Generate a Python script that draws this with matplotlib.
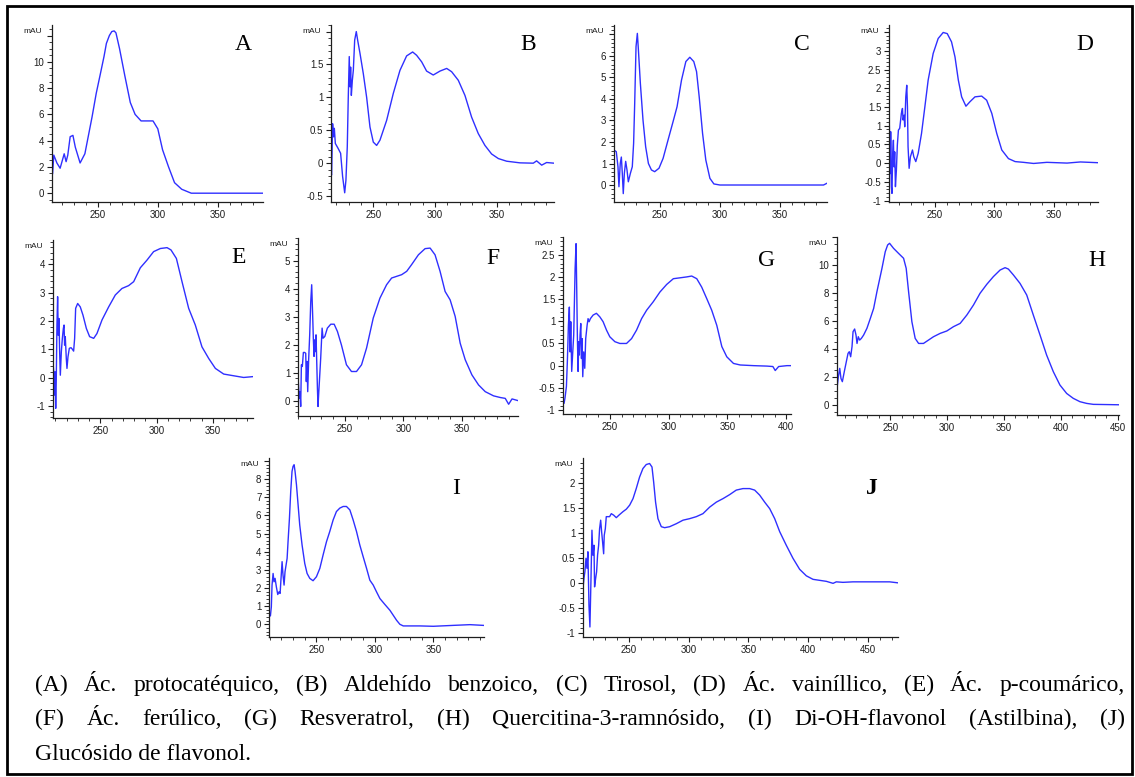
import matplotlib
matplotlib.use('Agg')
import matplotlib.pyplot as plt
from matplotlib.ticker import MultipleLocator, FuncFormatter
from matplotlib.patches import Rectangle

W, H = 1135, 777

# UV spectra: wavelength (nm) and absorbance (mAU)
a_nm = [212, 213, 215.6, 218.3, 221.7, 223.3, 224.7, 226.7, 229, 231, 235, 239, 245, 248.5, 252, 255,
        257, 259.5, 261.5, 263.5, 265, 268, 272.5, 277, 281, 286, 296, 300, 304, 309, 314, 320, 328, 388]
a_mau = [1.5, 2.9, 2.3, 1.9, 3.0, 2.4, 2.9, 4.3, 4.4, 3.5, 2.3, 3.0, 5.8, 7.6, 9.1, 10.4,
         11.4, 12.0, 12.3, 12.35, 12.2, 11.0, 8.9, 6.9, 6.0, 5.5, 5.5, 4.9, 3.3, 2.0, 0.8, 0.3, 0.0, 0.0]

b_nm = [215.7, 216.2, 217.0, 217.8, 218.4, 219.2, 221.6, 223.5, 225.1, 226.8, 227.8, 228.9, 229.7, 230.5,
        231.1, 231.6, 232.2, 233.0, 233.8, 234.9, 236.2, 237.3, 239.2, 241.9, 244.6, 247.3, 250, 252.7,
        255.4, 260.8, 266.2, 271.6, 277.0, 281.9, 285.1, 289.2, 293.2, 298.6, 304.1, 309.5, 313.5, 318.9,
        324.3, 329.7, 335.1, 340.5, 345.9, 351.4, 358.1, 368.9, 379.7, 382.4, 386.5, 390.5, 396.5]
b_mau = [-0.16, -0.18, 0.6, 0.4, 0.53, 0.3, 0.22, 0.15, -0.2, -0.45, -0.26, 0.25, 1.0, 1.62,
         1.16, 1.46, 1.03, 1.26, 1.41, 1.87, 2.0, 1.87, 1.67, 1.36, 1.0, 0.55, 0.32, 0.27,
         0.35, 0.65, 1.06, 1.41, 1.63, 1.69, 1.64, 1.54, 1.4, 1.34, 1.4, 1.44, 1.39, 1.26,
         1.03, 0.7, 0.45, 0.27, 0.14, 0.07, 0.03, 0.005, 0.0, 0.035, -0.03, 0.01, 0.0]

c_nm = [211.9, 213.9, 215.3, 216.1, 217.2, 218.1, 218.9, 219.7, 220.6, 221.7, 222.8, 223.9, 225.6, 227.2,
        228.3, 229.2, 230.3, 231.4, 232.2, 233.9, 236.1, 238.3, 240.6, 243.1, 245.8, 249.4, 252.8, 256.9,
        261.1, 264.4, 268.1, 271.7, 275.0, 278.3, 280.6, 282.8, 285.6, 288.3, 291.7, 295.0, 300, 386.1, 388.9]
c_mau = [1.63, 1.55, 0.85, -0.08, 1.0, 1.3, 0.54, -0.4, 0.54, 1.1, 0.7, 0.15, 0.54, 0.85,
         1.94, 3.8, 6.43, 7.05, 6.36, 4.73, 3.02, 1.78, 1.0, 0.7, 0.62, 0.78, 1.24, 2.09,
         2.95, 3.64, 4.88, 5.74, 5.94, 5.74, 5.27, 4.1, 2.4, 1.16, 0.31, 0.05, 0.0, 0.0, 0.08]

d_nm = [211.5, 212.1, 212.6, 212.9, 213.5, 214.0, 214.6, 215.2, 215.7, 216.3, 216.9, 217.7, 218.5, 219.4,
        220.5, 221.9, 222.8, 223.3, 224.2, 224.7, 225.6, 226.4, 227.0, 227.5, 228.4, 229.5, 231.2, 232.3,
        234.0, 236.0, 238.8, 241.6, 244.4, 248.6, 252.8, 257.0, 260.4, 264.0, 266.9, 269.7, 272.5, 276.1,
        279.5, 283.7, 289.3, 293.5, 297.8, 302.0, 306.2, 311.8, 317.4, 324.4, 332.9, 344.1, 361.0, 372.2, 387.1]
d_mau = [1.42, 0.53, -0.28, 0.84, -0.63, -0.81, 0.26, 0.61, -0.1, 0.3, -0.63, -0.19, 0.48, 0.88,
         0.93, 1.33, 1.46, 1.15, 1.28, 0.97, 1.77, 2.08, 1.5, 0.44, -0.14, 0.17, 0.35, 0.17,
         0.04, 0.26, 0.79, 1.5, 2.22, 2.93, 3.33, 3.49, 3.46, 3.24, 2.84, 2.22, 1.77, 1.52,
         1.64, 1.77, 1.79, 1.68, 1.33, 0.79, 0.35, 0.12, 0.04, 0.02, -0.01, 0.02, 0.0, 0.03, 0.01]

e_nm = [208.0, 208.6, 209.2, 209.8, 210.4, 210.9, 211.5, 212.1, 212.7, 213.3, 213.9, 214.5, 215.4, 216.3,
        217.2, 217.8, 218.3, 218.9, 219.8, 220.4, 221.3, 222.5, 224.0, 225.1, 226.3, 227.2, 228.1, 229.9,
        232.2, 234.6, 237.6, 240.5, 244.1, 247.0, 251.5, 257.4, 263.3, 269.2, 275.1, 279.6, 285.5, 291.4,
        297.3, 303.3, 309.2, 312.7, 317.5, 322.5, 328.4, 334.3, 340.2, 346.2, 352.1, 359.5, 368.3, 377.2, 385.5]
e_mau = [0.56, 0.21, -0.61, 0.21, -1.08, -0.08, 1.86, 2.86, 1.5, 2.09, 0.92, 0.09, 0.92, 1.39,
         1.74, 1.86, 1.15, 1.45, 0.68, 0.33, 0.74, 1.04, 1.06, 1.01, 0.94, 1.39, 2.45, 2.62,
         2.5, 2.21, 1.74, 1.45, 1.39, 1.56, 2.04, 2.5, 2.92, 3.15, 3.25, 3.39, 3.88, 4.15,
         4.45, 4.56, 4.59, 4.51, 4.21, 3.39, 2.45, 1.86, 1.09, 0.68, 0.33, 0.13, 0.07, 0.01, 0.04]

f_nm = [210, 210.6, 211.1, 211.7, 212.3, 212.9, 213.7, 214.6, 215.7, 216.6, 217.1, 217.7, 218.3, 219.1,
        220, 220.9, 221.7, 222.6, 223.1, 223.7, 224.3, 224.9, 225.4, 226, 226.6, 227.1, 227.7, 228.6,
        229.4, 230.6, 231.4, 232.9, 235.1, 238, 240.9, 243.7, 247.1, 251.4, 255.7, 260, 264.3, 268.6,
        274.3, 280, 285.7, 290, 294.3, 298.6, 302.9, 307.1, 312.9, 318.6, 322.9, 327.1, 331.4, 335.7,
        340, 344.3, 348.6, 352.9, 358.6, 364.3, 370, 377.1, 382.9, 387.1, 390, 392.9, 398]
f_mau = [0.86, 0.44, 0.08, 0.32, -0.21, 1.28, 1.22, 1.72, 1.72, 1.69, 0.68, 1.4, 0.32, 1.46,
         2.35, 3.54, 4.14, 2.95, 2.23, 1.58, 2.17, 1.75, 2.35, 1.4, 0.44, -0.21, 0.26, 0.92,
         1.52, 2.59, 2.23, 2.29, 2.59, 2.73, 2.73, 2.47, 1.99, 1.28, 1.04, 1.04, 1.28, 1.88,
         2.95, 3.66, 4.14, 4.38, 4.44, 4.5, 4.62, 4.86, 5.21, 5.43, 5.45, 5.21, 4.62, 3.9,
         3.6, 3.01, 2.05, 1.46, 0.92, 0.56, 0.32, 0.17, 0.11, 0.08, -0.13, 0.06, 0.0]

g_nm = [210.2, 211.1, 211.9, 213.1, 213.9, 214.8, 215.6, 216.2, 216.8, 217.6, 218.5, 219.3, 219.9, 220.5,
        221.3, 221.9, 222.4, 223.0, 223.6, 224.1, 224.7, 225.3, 225.9, 226.4, 227.0, 227.8, 228.7, 229.5,
        230.7, 231.5, 232.4, 233.5, 235.8, 238.6, 241.5, 244.3, 247.2, 250, 254.3, 258.5, 264.2, 268.5,
        272.7, 277.0, 281.3, 286.9, 292.6, 298.3, 304.0, 309.7, 315.3, 319.6, 323.9, 328.1, 332.4, 336.6,
        340.9, 345.2, 349.4, 355.1, 360.8, 372.2, 383.5, 388.6, 390.6, 393.5, 400.6, 404.0]
g_mau = [-0.73, -0.85, -0.73, -0.47, 0.09, 0.91, 1.32, 0.31, 0.99, -0.13, 0.31, 0.69, 1.44, 2.19,
         2.75, 1.66, 0.69, -0.13, 0.54, 0.24, 0.69, 0.95, 0.16, 0.61, -0.25, 0.31, -0.06, 0.61,
         0.91, 1.06, 0.99, 1.06, 1.14, 1.18, 1.1, 0.99, 0.8, 0.65, 0.54, 0.5, 0.5, 0.61,
         0.8, 1.06, 1.25, 1.44, 1.66, 1.83, 1.96, 1.98, 2.0, 2.02, 1.96, 1.77, 1.51, 1.25,
         0.91, 0.43, 0.2, 0.05, 0.015, 0.0, -0.01, -0.02, -0.11, -0.02, 0.0, 0.0]

h_nm = [203.2, 204.4, 205.6, 206.7, 207.9, 209.6, 211.4, 212.9, 214.0, 215.2, 216.4, 217.3, 218.7, 219.9,
        220.8, 221.9, 223.1, 224.6, 226.6, 229.5, 232.5, 235.4, 238.3, 242.7, 245.6, 247.7, 249.4, 252.9,
        257.3, 261.7, 264.0, 266.1, 269.0, 271.9, 274.9, 279.2, 283.6, 288.0, 293.9, 299.7, 305.6, 311.4,
        317.3, 323.1, 328.9, 334.8, 340.6, 346.5, 350.9, 353.8, 358.2, 364.0, 369.9, 375.7, 381.6, 387.4,
        393.3, 399.1, 405.0, 410.8, 416.7, 422.5, 428.4, 451.2]
h_mau = [1.19, 2.02, 2.62, 1.9, 1.67, 2.38, 3.1, 3.69, 3.81, 3.45, 4.17, 5.24, 5.43, 5.0,
         4.4, 4.88, 4.64, 4.76, 5.0, 5.48, 6.19, 6.9, 8.1, 9.76, 10.95, 11.43, 11.55, 11.19,
         10.83, 10.48, 9.76, 8.1, 5.95, 4.76, 4.4, 4.4, 4.64, 4.88, 5.12, 5.29, 5.6, 5.83,
         6.43, 7.14, 7.98, 8.62, 9.17, 9.64, 9.81, 9.71, 9.29, 8.69, 7.86, 6.43, 5.0, 3.57,
         2.38, 1.43, 0.83, 0.48, 0.24, 0.12, 0.05, 0.02]

i_nm = [209.4, 210.6, 211.4, 212.0, 212.9, 213.7, 214.6, 215.7, 216.9, 218.0, 218.9, 219.7, 220.6, 221.4,
        222.3, 223.1, 224.0, 224.9, 225.7, 226.9, 228.0, 229.1, 230, 230.9, 231.7, 232.9, 234.3, 235.7,
        237.7, 240.0, 242.0, 244.3, 247.1, 250, 252.9, 255.7, 258.6, 261.4, 264.3, 267.1, 270, 272.9,
        275.7, 278.6, 281.4, 284.3, 287.1, 290, 292.9, 295.7, 298.6, 301.4, 304.3, 308.6, 312.9, 315.7,
        318.6, 321.4, 324.3, 338.6, 350, 367.1, 381.4, 392.9]
i_mau = [0.5, 0.46, 0.96, 2.16, 2.8, 2.34, 2.53, 2.06, 1.64, 1.79, 1.7, 2.53, 3.45, 2.71,
         2.16, 2.89, 3.26, 3.63, 4.55, 5.84, 7.32, 8.42, 8.7, 8.79, 8.42, 7.69, 6.58, 5.47,
         4.37, 3.35, 2.8, 2.53, 2.4, 2.62, 3.08, 3.82, 4.55, 5.11, 5.75, 6.21, 6.4, 6.49,
         6.49, 6.3, 5.75, 5.11, 4.37, 3.72, 3.08, 2.43, 2.16, 1.79, 1.42, 1.09, 0.77, 0.5,
         0.22, 0.0, -0.09, -0.09, -0.11, -0.06, -0.02, -0.06]

j_nm = [211.5, 212.3, 213.1, 214.0, 214.8, 215.6, 216.5, 217.3, 218.2, 219.0, 219.8, 220.7, 221.2, 222.1,
        222.9, 223.7, 224.6, 225.4, 226.3, 227.1, 227.9, 228.8, 229.3, 230.2, 231.0, 232.4, 233.8, 235.2,
        237.2, 239.4, 241.6, 245.0, 247.8, 250.6, 253.4, 256.1, 258.9, 261.7, 264.5, 267.3, 269.3, 270.7,
        272.3, 274.3, 277.1, 279.9, 284.1, 289.7, 295.3, 300.8, 306.4, 312.0, 317.6, 323.2, 328.8, 334.4,
        339.9, 345.5, 351.1, 355.3, 359.5, 363.7, 367.9, 372.1, 376.3, 381.8, 387.4, 393.0, 398.6, 404.2,
        409.8, 415.4, 421.0, 423.7, 429.3, 437.7, 451.7, 461.5, 468.4, 475.4]
j_mau = [-0.11, 0.09, 0.22, 0.49, 0.29, 0.62, -0.45, -0.88, 0.09, 1.05, 0.55, 0.75, -0.08, 0.09,
         0.22, 0.55, 0.75, 1.08, 1.25, 1.02, 0.82, 0.58, 0.95, 1.08, 1.32, 1.32, 1.32, 1.38,
         1.35, 1.3, 1.35, 1.42, 1.47, 1.55, 1.68, 1.88, 2.11, 2.28, 2.36, 2.38, 2.31, 2.01,
         1.61, 1.28, 1.12, 1.1, 1.12, 1.18, 1.25, 1.28, 1.32, 1.38, 1.51, 1.61, 1.68, 1.76,
         1.85, 1.88, 1.88, 1.85, 1.75, 1.61, 1.48, 1.28, 1.02, 0.75, 0.49, 0.27, 0.14, 0.07,
         0.05, 0.03, -0.01, 0.02, 0.01, 0.02, 0.02, 0.02, 0.02, 0.0]

letters = ['A', 'B', 'C', 'D', 'E', 'F', 'G', 'H', 'I', 'J']
spectra = [(a_nm, a_mau), (b_nm, b_mau), (c_nm, c_mau), (d_nm, d_mau), (e_nm, e_mau),
           (f_nm, f_mau), (g_nm, g_mau), (h_nm, h_mau), (i_nm, i_mau), (j_nm, j_mau)]

caption = ["(A) Ác. protocatéquico, (B) Aldehído benzoico, (C) Tirosol, (D) Ác. vainíllico, (E) Ác. p-coumárico,",
           "(F) Ác. ferúlico, (G) Resveratrol, (H) Quercitina-3-ramnósido, (I) Di-OH-flavonol (Astilbina), (J)",
           "Glucósido de flavonol."]

# panel layout in pixels: (left, top, right, bottom), x range, y range, y tick step,
# highest labelled y tick (the mAU label takes the place of the one above), letter centre
boxes = [(52, 25, 263, 202), (331, 25, 554, 202), (614, 25, 827, 202), (889, 25, 1098, 202),
         (53, 240, 253, 418), (298, 238, 518, 416), (563, 237, 791, 414), (837, 237, 1119, 415),
         (269, 458, 484, 637), (583, 458, 898, 637)]
xlims = [(211.5, 388), (215.7, 396.5), (212, 389), (211.5, 387), (208, 385.5),
         (210, 398), (210.2, 404), (203.2, 451), (209.4, 393.4), (211.5, 475.4)]
ylims = [(-0.67, 12.8), (-0.59, 2.1), (-0.79, 7.44), (-1.04, 3.69), (-1.42, 4.86),
         (-0.55, 5.81), (-1.09, 2.9), (-0.71, 12.0), (-0.7, 9.16), (-1.08, 2.49)]
ysteps = [2, 0.5, 1, 0.5, 1, 1, 0.5, 2, 1, 0.5]
ytop_label = [10, 1.5, 6, 3, 4, 5, 2.5, 10, 8, 2]
letter_pos = [(243, 45), (528, 45), (802, 45), (1085, 45), (239, 257),
              (493, 258), (767, 260), (1097, 260), (456, 489), (872, 489)]

plt.rcParams['axes.unicode_minus'] = False
plt.rcParams['font.family'] = ['Liberation Sans', 'DejaVu Sans']

fig = plt.figure(figsize=(W / 100, H / 100), dpi=100)
blue = '#2f2fff'
ink = '#1e1e1e'


def y_label_fmt(top):
    return FuncFormatter(lambda v, p: '' if v > top + 1e-6 else '%g' % round(v, 2))


for k in range(10):
    l, t, r, b = boxes[k]
    ax = fig.add_axes([l / W, 1 - b / H, (r - l) / W, (b - t) / H])
    ax.patch.set_visible(False)
    nm, mau = spectra[k]
    ax.plot(nm, mau, color=blue, lw=1.0)
    ax.set_xlim(*xlims[k])
    ax.set_ylim(*ylims[k])
    ax.xaxis.set_major_locator(MultipleLocator(50))
    ax.xaxis.set_minor_locator(MultipleLocator(10))
    ax.yaxis.set_major_locator(MultipleLocator(ysteps[k]))
    ax.yaxis.set_minor_locator(MultipleLocator(ysteps[k] / (4 if ysteps[k] == 2 else 5)))
    ax.yaxis.set_major_formatter(y_label_fmt(ytop_label[k]))
    for s in ['top', 'right']:
        ax.spines[s].set_visible(False)
    for s in ['left', 'bottom']:
        ax.spines[s].set_color(ink)
        ax.spines[s].set_linewidth(0.9)
    ax.tick_params(which='major', length=3.5, width=0.8, labelsize=7, pad=2,
                   color=ink, labelcolor=ink)
    ax.tick_params(which='minor', length=2, width=0.6, color=ink)
    ax.annotate('mAU', xy=(0, 1), xycoords='axes fraction', xytext=(-7, -4.5),
                textcoords='offset points', ha='right', va='center', fontsize=6, color=ink)
    lx, ly = letter_pos[k]
    fig.text(lx / W, 1 - ly / H, letters[k], fontsize=17, family='Liberation Serif',
             ha='center', va='center', fontweight='bold' if letters[k] == 'J' else 'normal')

# outer frame
fig.add_artist(Rectangle((7 / W, 1 - 774 / H), (1132 - 7) / W, (774 - 6) / H,
                         transform=fig.transFigure, fill=False, ec='black', lw=2))

# caption, first two lines justified
renderer = fig.canvas.get_renderer()
baselines = [690.7, 725, 760]
x0, x1 = 35, 1125
cap_size = 17
for i, line in enumerate(caption):
    y = 1 - baselines[i] / H
    if i == 2:
        fig.text(x0 / W, y, line, fontsize=cap_size, family='Liberation Serif', va='baseline')
        continue
    words = line.split(' ')
    texts = [fig.text(0, y, w, fontsize=cap_size, family='Liberation Serif', va='baseline') for w in words]
    widths = [t.get_window_extent(renderer).width for t in texts]
    gap = (x1 - x0 - sum(widths)) / (len(words) - 1)
    x = x0
    for t, w in zip(texts, widths):
        t.set_x(x / W)
        x += w + gap

fig.savefig('out.png', dpi=100)
plt.close(fig)
